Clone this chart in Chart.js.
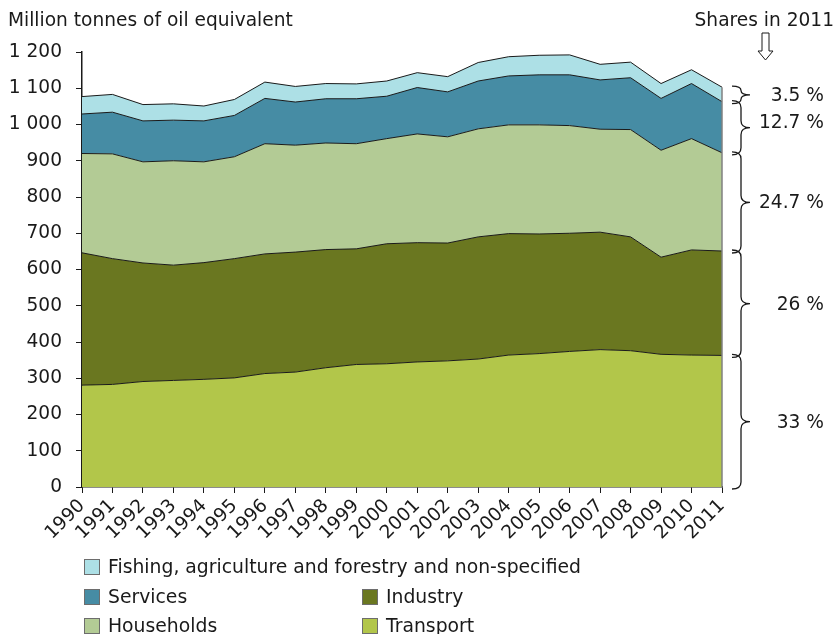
<!DOCTYPE html>
<html>
<head>
<meta charset="utf-8">
<script src="https://cdn.jsdelivr.net/npm/chart.js@4/dist/chart.umd.min.js"></script>
<style>
html,body{margin:0;padding:0;background:#fff;}
#wrap{position:relative;width:837px;height:634px;}
</style>
</head>
<body>
<div id="wrap"><canvas id="c" width="837" height="634"></canvas></div>
<script>
const years = ['1990','1991','1992','1993','1994','1995','1996','1997','1998','1999','2000','2001','2002','2003','2004','2005','2006','2007','2008','2009','2010','2011'];
const transport  = [281,283,291,294,297,301,313,317,329,338,340,345,348,353,364,368,374,379,376,366,364,363];
const industry   = [365,347,327,318,322,329,330,331,326,319,331,329,325,337,335,330,326,324,314,268,290,288];
const households = [274,289,279,288,278,281,304,295,294,290,290,300,293,298,300,301,297,284,296,295,307,271];
const services   = [109,115,113,112,113,114,125,119,122,124,117,128,124,132,135,138,140,136,143,143,152,141];
const fishing    = [48,49,45,45,41,44,45,43,42,41,42,41,42,51,53,54,55,43,43,41,38,40];
const seriesNames = ['Transport','Industry','Households','Services','Fishing, agriculture and forestry and non-specified'];
const shareLabels = ['33 %','26 %','24.7 %','12.7 %','3.5 %'];
const yTicks = [0,100,200,300,400,500,600,700,800,900,1000,1100,1200];
const yTitle = 'Million tonnes of oil equivalent';
const sharesTitle = 'Shares in 2011';

const colors = ['#b2c64a','#6a7720','#b3cb95','#468ca4','#ade0e6'];
const FONT = '"DejaVu Sans", Verdana, sans-serif';
const FS = 18.6;

const seriesData = [transport, industry, households, services, fishing];
const datasets = seriesData.map((d,i)=>({
  label: seriesNames[i],
  data: d,
  backgroundColor: colors[i],
  borderColor: '#1a1a1a',
  borderWidth: 1,
  fill: i===0 ? 'origin' : '-1',
  pointRadius: 0,
  tension: 0
}));

function fmt(v){ return String(v).replace(/\B(?=(\d{3})+(?!\d))/g,' '); }

const extras = {
  id:'extras',
  afterDatasetsDraw(chart){
    const {ctx, chartArea:a, scales:{x,y}} = chart;
    ctx.save();
    const last = years.length-1;
    let total = 0; seriesData.forEach(d=>total+=d[last]);
    ctx.strokeStyle = '#808080'; ctx.lineWidth = 1.5;
    ctx.beginPath(); ctx.moveTo(a.right, y.getPixelForValue(total)); ctx.lineTo(a.right, a.bottom); ctx.stroke();
    ctx.restore();
  },
  afterDraw(chart){
    const {ctx, chartArea:a, scales:{x,y}} = chart;
    ctx.save();
    ctx.fillStyle = '#1a1a1a';
    ctx.font = FS+'px '+FONT;
    ctx.textBaseline = 'alphabetic';
    ctx.textAlign = 'left';
    ctx.fillText(yTitle, 8, 26);
    ctx.textAlign = 'right';
    ctx.fillText(sharesTitle, 834, 26);
    // arrow
    ctx.strokeStyle = '#1a1a1a'; ctx.lineWidth = 1;
    const ax = 765.5;
    ctx.beginPath();
    ctx.moveTo(ax-3.5, 33); ctx.lineTo(ax+3.5, 33); ctx.lineTo(ax+3.5, 51); ctx.lineTo(ax+7.5, 51);
    ctx.lineTo(ax, 60); ctx.lineTo(ax-7.5, 51); ctx.lineTo(ax-3.5, 51); ctx.closePath();
    ctx.stroke();
    // braces
    const last = years.length-1;
    let cum = 0;
    const bx = 732, sp = 9, bw = 18;
    ctx.lineWidth = 1.3;
    for (let i=0;i<seriesData.length;i++){
      const lo = cum, hi = cum + seriesData[i][last];
      cum = hi;
      const yb = y.getPixelForValue(lo) + 2, yt = y.getPixelForValue(hi) - 1;
      const ym = (yb+yt)/2;
      const r = Math.min(7, (yb-yt)/4);
      ctx.beginPath();
      ctx.moveTo(bx, yt);
      ctx.quadraticCurveTo(bx+sp, yt, bx+sp, yt+r);
      ctx.lineTo(bx+sp, ym-r);
      ctx.quadraticCurveTo(bx+sp, ym, bx+bw, ym);
      ctx.quadraticCurveTo(bx+sp, ym, bx+sp, ym+r);
      ctx.lineTo(bx+sp, yb-r);
      ctx.quadraticCurveTo(bx+sp, yb, bx, yb);
      ctx.stroke();
      ctx.textAlign = 'right';
      ctx.textBaseline = 'middle';
      ctx.fillText(shareLabels[i], 824, ym - (i===3 ? 6 : 0) + 1);
    }
    // legend
    const leg = [
      {i:4, x:84, y:567},
      {i:3, x:84, y:597},
      {i:1, x:362, y:597},
      {i:2, x:84, y:626},
      {i:0, x:362, y:626}
    ];
    ctx.textAlign = 'left';
    ctx.textBaseline = 'middle';
    ctx.lineWidth = 1;
    leg.forEach(l=>{
      ctx.fillStyle = colors[l.i];
      ctx.fillRect(l.x+0.5, l.y-7.5, 15, 15);
      ctx.strokeStyle = '#6d6d6d';
      ctx.strokeRect(l.x+0.5, l.y-7.5, 15, 15);
      ctx.fillStyle = '#1a1a1a';
      ctx.font = '18.8px '+FONT;
      ctx.fillText(seriesNames[l.i], l.x+24, l.y+1);
    });
    ctx.restore();
  }
};

new Chart(document.getElementById('c'), {
  type:'line',
  data:{labels: years, datasets},
  options:{
    responsive:false,
    animation:false,
    events:[],
    layout:{padding:{left:0, right:115, top:52, bottom:0}},
    plugins:{legend:{display:false}, tooltip:{enabled:false}, title:{display:false}},
    scales:{
      x:{
        offset:false,
        grid:{display:true, drawOnChartArea:false, drawTicks:true, tickLength:6, color:'#1a1a1a'},
        border:{display:true, color:'#1a1a1a', width:1.5},
        ticks:{color:'#1a1a1a', font:{family:FONT, size:FS}, minRotation:45, maxRotation:45, autoSkip:false, padding:2},
        afterFit(s){ s.height = 147; }
      },
      y:{
        stacked:true,
        min:0, max:1200,
        afterBuildTicks(s){ s.ticks = yTicks.map(v=>({value:v})); },
        grid:{display:true, drawOnChartArea:false, drawTicks:true, tickLength:6, color:'#1a1a1a'},
        border:{display:true, color:'#1a1a1a', width:1.5},
        ticks:{color:'#1a1a1a', font:{family:FONT, size:FS}, padding:14, callback:(v)=>fmt(v)},
        afterFit(s){ s.width = 82; }
      }
    }
  },
  plugins:[extras]
});
</script>
</body>
</html>
